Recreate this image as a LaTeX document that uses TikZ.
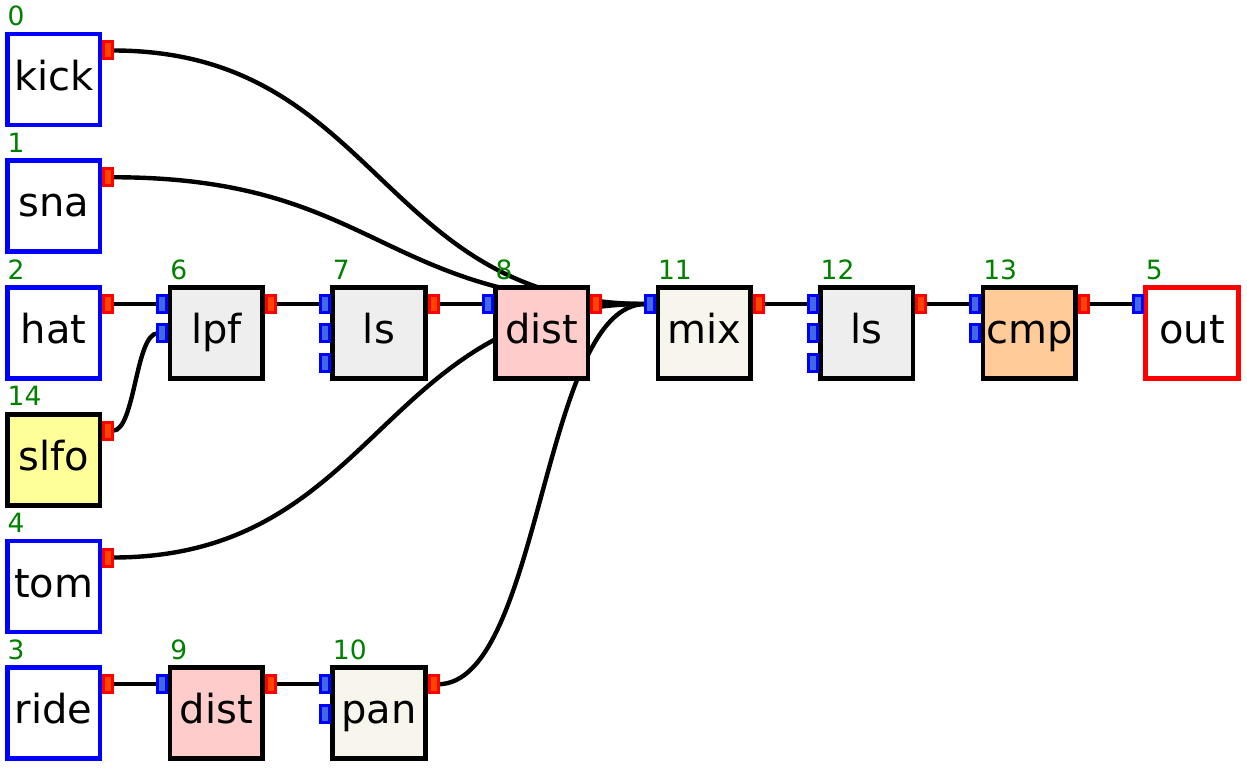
\documentclass[tikz,border=0pt]{standalone}
\usepackage{fontspec}
\setmainfont{DejaVu Sans}
\usetikzlibrary{calc}
\pgfdeclarelayer{wires}
\pgfsetlayers{wires,main}

\definecolor{inblue}{RGB}{65,105,225}
\definecolor{outred}{RGB}{255,69,0}
\definecolor{numgreen}{RGB}{0,128,0}
\definecolor{grayfill}{RGB}{238,238,238}
\definecolor{pinkfill}{RGB}{255,204,204}
\definecolor{beigefill}{RGB}{248,245,236}
\definecolor{orangefill}{RGB}{255,204,153}
\definecolor{yellowfill}{RGB}{255,255,153}

\tikzset{
  box/.style={draw, line width=4.6pt, minimum width=92.5pt, minimum height=91pt,
    inner sep=0pt, outer sep=0pt, text height=30pt, text depth=9pt,
    font=\fontsize{40}{48}\selectfont, anchor=north west},
  src/.style={draw=blue, fill=white},
  sink/.style={draw=red, fill=white},
  proc/.style={draw=black},
  num/.style={text=numgreen, inner sep=0pt, anchor=base west,
    font=\fontsize{26.5}{30}\selectfont},
  port/.style={line width=3pt, minimum width=9pt, minimum height=17pt,
    inner sep=0pt, outer sep=0pt},
  inp/.style={port, draw=blue, fill=inblue},
  outp/.style={port, draw=red, fill=outred},
  wire/.style={draw=black, line width=4.4pt}
}

% block: name, column, row, text, number, style
\newcommand\blk[6]{%
  \pgfmathsetmacro\bx{7.5+162.6*#2}%
  \pgfmathsetmacro\by{34+126.75*#3}%
  \node[box,#6] (#1) at (\bx,\by) {#4};
  \node[num] (#1-n) at (\bx,\by-8.5) {#5};
}
% input port: block name, index
\newcommand\inport[2]{%
  \node[inp] (#1-i#2) at ($(#1.north west)+(-7.8,16.5+29.3*#2)$) {};}
% output port: block name
\newcommand\outport[1]{%
  \node[outp] (#1-o) at ($(#1.north east)+(8.3,16.5)$) {};}
% connector from an output port to an input port
\newcommand\wire[2]{%
  \begin{pgfonlayer}{wires}
  \draw[wire] let \p1=(#1.east), \p2=(#2.west), \n1={(\x1+\x2)/2} in
    (\p1) .. controls (\n1,\y1) and (\n1,\y2) .. (\p2);
  \end{pgfonlayer}}

\begin{document}
\begin{tikzpicture}[x=1pt,y=-1pt]
\useasboundingbox (0,0) rectangle (1247,768);

% sources
\blk{kick}{0}{0}{kick}{0}{src}
\blk{sna}{0}{1}{sna}{1}{src}
\blk{hat}{0}{2}{hat}{2}{src}
\blk{slfo}{0}{3}{slfo}{14}{proc,fill=yellowfill}
\blk{tom}{0}{4}{tom}{4}{src}
\blk{ride}{0}{5}{ride}{3}{src}
% processing chain
\blk{lpf}{1}{2}{lpf}{6}{proc,fill=grayfill}
\blk{lsa}{2}{2}{ls}{7}{proc,fill=grayfill}
\blk{dista}{3}{2}{dist}{8}{proc,fill=pinkfill}
\blk{mix}{4}{2}{mix}{11}{proc,fill=beigefill}
\blk{lsb}{5}{2}{ls}{12}{proc,fill=grayfill}
\blk{cmp}{6}{2}{cmp}{13}{proc,fill=orangefill}
\blk{out}{7}{2}{out}{5}{sink}
\blk{distb}{1}{5}{dist}{9}{proc,fill=pinkfill}
\blk{pan}{2}{5}{pan}{10}{proc,fill=beigefill}

% ports
\outport{kick}\outport{sna}\outport{hat}\outport{slfo}\outport{tom}\outport{ride}
\inport{lpf}{0}\inport{lpf}{1}\outport{lpf}
\inport{lsa}{0}\inport{lsa}{1}\inport{lsa}{2}\outport{lsa}
\inport{dista}{0}\outport{dista}
\inport{mix}{0}\outport{mix}
\inport{lsb}{0}\inport{lsb}{1}\inport{lsb}{2}\outport{lsb}
\inport{cmp}{0}\inport{cmp}{1}\outport{cmp}
\inport{out}{0}
\inport{distb}{0}\outport{distb}
\inport{pan}{0}\inport{pan}{1}\outport{pan}

% connections
\wire{kick-o}{mix-i0}
\wire{sna-o}{mix-i0}
\wire{tom-o}{mix-i0}
\wire{pan-o}{mix-i0}
\wire{dista-o}{mix-i0}
\wire{slfo-o}{lpf-i1}
\wire{hat-o}{lpf-i0}
\wire{lpf-o}{lsa-i0}
\wire{lsa-o}{dista-i0}
\wire{mix-o}{lsb-i0}
\wire{lsb-o}{cmp-i0}
\wire{cmp-o}{out-i0}
\wire{ride-o}{distb-i0}
\wire{distb-o}{pan-i0}
\end{tikzpicture}
\end{document}
